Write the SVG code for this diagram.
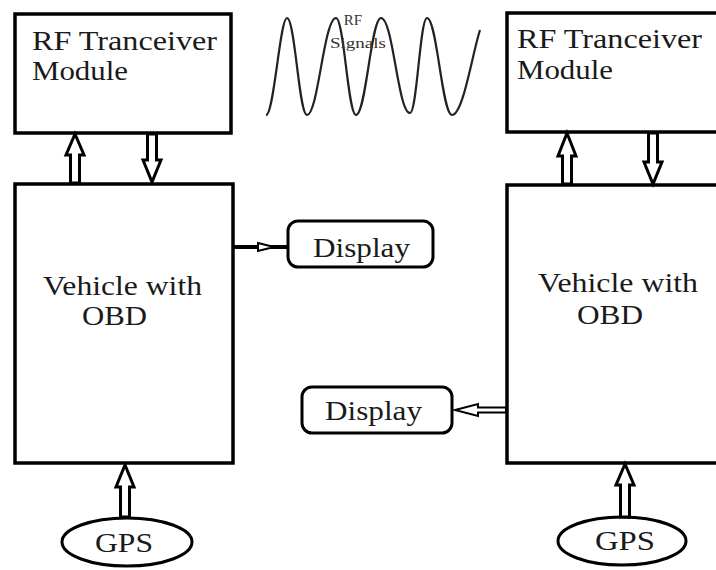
<svg xmlns="http://www.w3.org/2000/svg" width="716" height="570" viewBox="0 0 716 570">
<style>
.box{fill:#fff;stroke:#000;stroke-width:3.5}
.disp{fill:#fff;stroke:#000;stroke-width:3}
.t{font-family:"Liberation Serif","Times New Roman",serif;font-size:28px;fill:#1a1a1a}
.s{font-family:"Liberation Serif","Times New Roman",serif;font-size:15px;fill:#333}
.arr{fill:#fff;stroke:#000;stroke-width:3;stroke-linejoin:miter}
.wave{fill:none;stroke:#222;stroke-width:2.2}
</style>
<rect width="716" height="570" fill="#fff"/>
<g id="rf-left">
<rect class="box" x="15" y="14" width="216" height="119"/>
<text class="t" x="32" y="50" textLength="185" lengthAdjust="spacingAndGlyphs">RF Tranceiver</text>
<text class="t" x="32" y="80" textLength="96" lengthAdjust="spacingAndGlyphs">Module</text>
</g>
<g id="rf-right">
<rect class="box" x="507" y="13" width="230" height="119"/>
<text class="t" x="517" y="48" textLength="185" lengthAdjust="spacingAndGlyphs">RF Tranceiver</text>
<text class="t" x="517" y="79" textLength="96" lengthAdjust="spacingAndGlyphs">Module</text>
</g>
<g id="vehicle-left">
<rect class="box" x="15" y="184" width="218" height="279"/>
<text class="t" x="43" y="295" textLength="159" lengthAdjust="spacingAndGlyphs">Vehicle with</text>
<text class="t" x="82" y="325" textLength="65" lengthAdjust="spacingAndGlyphs">OBD</text>
</g>
<g id="vehicle-right">
<rect class="box" x="507" y="185" width="230" height="278"/>
<text class="t" x="538" y="292" textLength="160" lengthAdjust="spacingAndGlyphs">Vehicle with</text>
<text class="t" x="577" y="324" textLength="66" lengthAdjust="spacingAndGlyphs">OBD</text>
</g>
<g id="display-left">
<rect class="disp" x="288" y="221" width="145" height="46" rx="10"/>
<text class="t" x="313" y="257" textLength="97" lengthAdjust="spacingAndGlyphs">Display</text>
</g>
<g id="display-right">
<rect class="disp" x="302" y="387" width="150" height="46" rx="10"/>
<text class="t" x="325" y="420" textLength="97" lengthAdjust="spacingAndGlyphs">Display</text>
</g>
<g id="gps-left">
<ellipse class="disp" cx="127" cy="542" rx="65" ry="24"/>
<text class="t" x="95" y="552" textLength="58" lengthAdjust="spacingAndGlyphs">GPS</text>
</g>
<g id="gps-right">
<ellipse class="disp" cx="622" cy="541" rx="64" ry="24"/>
<text class="t" x="595" y="550" textLength="60" lengthAdjust="spacingAndGlyphs">GPS</text>
</g>
<g id="rf-signals">
<path class="wave" d="M266,115 C274,115 280,18 287,18 C295,18 299,115 307,115 C318,115 324,18 336,18 C344,18 348,115 356,115 C366,115 371,18 381,18 C393,18 398,113 410,113 C417,113 420,18 427,18 C437,18 442,115 452,115 C463,115 472,55 480,30"/>
<text class="s" x="353" y="25" text-anchor="middle">RF</text>
<text class="s" x="358" y="48" text-anchor="middle" textLength="56" lengthAdjust="spacingAndGlyphs">Signals</text>
</g>
<g id="connectors">
<polygon class="arr" points="70.5,183 70.5,155 66,155 75,134 84,155 79.5,155 79.5,183"/>
<polygon class="arr" points="147.5,134 147.5,160 143,160 152,182 161,160 156.5,160 156.5,134"/>
<polygon class="arr" points="562.5,184 562.5,156 558,156 567,133 576,156 571.5,156 571.5,184"/>
<polygon class="arr" points="648.5,133 648.5,162 644,162 653,184 662,162 657.5,162 657.5,133"/>
<polygon class="arr" points="120.5,517 120.5,487 116,487 125,465 134,487 129.5,487 129.5,517"/>
<polygon class="arr" points="620.5,517 620.5,485 616,485 625,464 634,485 629.5,485 629.5,517"/>
<line x1="233" y1="247" x2="288" y2="247" stroke="#000" stroke-width="4"/>
<polygon points="258,243 274,247 258,251" fill="#fff" stroke="#000" stroke-width="2"/>
<polygon points="506,407.5 478,407.5 478,404 455,410 478,416 478,412.5 506,412.5" fill="#fff" stroke="#000" stroke-width="2"/>
</g>
</svg>
